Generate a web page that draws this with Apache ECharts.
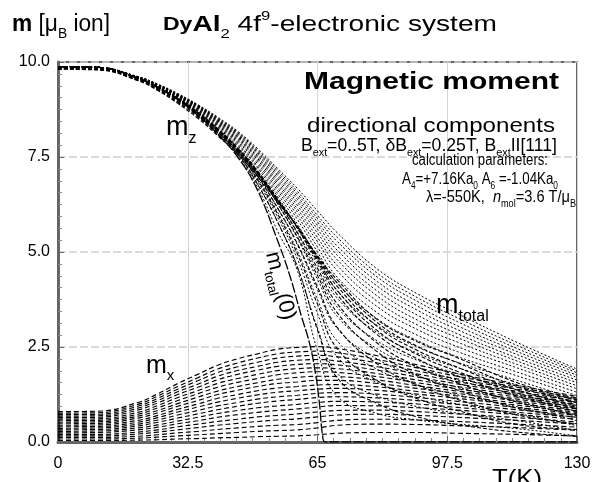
<!DOCTYPE html>
<html lang="en">
<head>
<meta charset="UTF-8">
<title>DyAl2 magnetic moment</title>
<script src="https://cdn.jsdelivr.net/npm/echarts@6/dist/echarts.min.js"></script>
<style>
  html, body { margin: 0; padding: 0; background: #fff; }
  #chart { width: 595px; height: 482px; }
</style>
</head>
<body>
<div id="chart"></div>
<script>
// temperature grids (K)
var tGrid = [0, 10, 20, 25, 30, 35, 40, 45, 50, 55, 60, 65, 70, 80, 90, 100, 115, 130];
var tZero = [0, 10, 20, 25, 30, 35, 40, 45, 50, 55, 58, 61, 63, 64.5, 65.5, 66.3, 67, 130];

// B_ext = 0 : m_total(0) (= m_z)
var mTot00 = [9.88, 9.86, 9.57, 9.32, 9.01, 8.60, 8.10, 7.50, 6.62, 5.30, 4.40, 3.30, 2.60, 1.80, 1.00, 0.15, 0, 0];

// m_total, B_ext = 0.25 .. 5 T
var mTot025 = [9.88, 9.86, 9.57, 9.32, 9.02, 8.62, 8.13, 7.54, 6.70, 5.55, 4.50, 2.40, 1.20, 0.75, 0.58, 0.47, 0.35, 0.16];
var mTot05 = [9.88, 9.86, 9.57, 9.33, 9.03, 8.64, 8.17, 7.59, 6.79, 5.80, 4.60, 3.00, 1.80, 1.21, 0.93, 0.76, 0.56, 0.30];
var mTot075 = [9.88, 9.86, 9.57, 9.33, 9.03, 8.66, 8.20, 7.63, 6.86, 5.92, 4.81, 3.38, 2.23, 1.56, 1.22, 1.00, 0.75, 0.43];
var mTot10 = [9.88, 9.86, 9.58, 9.34, 9.04, 8.68, 8.23, 7.68, 6.94, 6.05, 5.02, 3.75, 2.65, 1.91, 1.51, 1.24, 0.93, 0.56];
var mTot125 = [9.88, 9.86, 9.58, 9.34, 9.05, 8.70, 8.25, 7.72, 7.01, 6.16, 5.18, 4.01, 2.98, 2.18, 1.74, 1.44, 1.08, 0.68];
var mTot15 = [9.88, 9.86, 9.58, 9.35, 9.06, 8.71, 8.28, 7.76, 7.08, 6.27, 5.35, 4.28, 3.30, 2.45, 1.97, 1.63, 1.24, 0.80];
var mTot175 = [9.88, 9.86, 9.58, 9.35, 9.07, 8.72, 8.30, 7.80, 7.14, 6.36, 5.48, 4.48, 3.54, 2.66, 2.15, 1.80, 1.37, 0.91];
var mTot20 = [9.88, 9.86, 9.59, 9.36, 9.08, 8.74, 8.33, 7.84, 7.21, 6.46, 5.62, 4.68, 3.78, 2.88, 2.34, 1.96, 1.50, 1.02];
var mTot225 = [9.88, 9.86, 9.59, 9.36, 9.08, 8.75, 8.35, 7.87, 7.26, 6.54, 5.73, 4.84, 3.97, 3.06, 2.50, 2.10, 1.62, 1.12];
var mTot25 = [9.88, 9.86, 9.59, 9.37, 9.09, 8.77, 8.37, 7.91, 7.32, 6.62, 5.85, 5.00, 4.17, 3.24, 2.67, 2.25, 1.74, 1.22];
var mTot275 = [9.88, 9.86, 9.59, 9.37, 9.10, 8.78, 8.39, 7.94, 7.37, 6.69, 5.95, 5.13, 4.33, 3.40, 2.81, 2.38, 1.84, 1.31];
var mTot30 = [9.88, 9.86, 9.60, 9.38, 9.11, 8.80, 8.41, 7.97, 7.42, 6.76, 6.05, 5.27, 4.50, 3.56, 2.96, 2.51, 1.95, 1.40];
var mTot325 = [9.88, 9.86, 9.60, 9.38, 9.12, 8.81, 8.43, 8.00, 7.46, 6.82, 6.13, 5.38, 4.64, 3.70, 3.08, 2.63, 2.04, 1.48];
var mTot35 = [9.88, 9.86, 9.60, 9.39, 9.13, 8.82, 8.45, 8.03, 7.50, 6.88, 6.22, 5.50, 4.79, 3.84, 3.21, 2.75, 2.13, 1.56];
var mTot375 = [9.88, 9.86, 9.60, 9.39, 9.13, 8.83, 8.46, 8.05, 7.54, 6.94, 6.30, 5.60, 4.91, 3.97, 3.34, 2.85, 2.21, 1.63];
var mTot40 = [9.88, 9.86, 9.61, 9.40, 9.14, 8.84, 8.48, 8.08, 7.58, 7.00, 6.38, 5.70, 5.04, 4.10, 3.47, 2.96, 2.30, 1.70];
var mTot425 = [9.88, 9.86, 9.61, 9.40, 9.14, 8.85, 8.49, 8.10, 7.61, 7.05, 6.45, 5.79, 5.15, 4.22, 3.58, 3.06, 2.38, 1.76];
var mTot45 = [9.88, 9.86, 9.61, 9.41, 9.15, 8.86, 8.51, 8.13, 7.65, 7.10, 6.52, 5.88, 5.27, 4.34, 3.70, 3.17, 2.46, 1.82];
var mTot475 = [9.88, 9.86, 9.61, 9.41, 9.16, 8.87, 8.53, 8.15, 7.68, 7.15, 6.59, 5.96, 5.38, 4.44, 3.80, 3.27, 2.54, 1.87];
var mTot50 = [9.88, 9.86, 9.62, 9.42, 9.17, 8.88, 8.55, 8.18, 7.72, 7.20, 6.67, 6.08, 5.50, 4.55, 3.90, 3.38, 2.62, 1.92];

// m_z, B_ext = 0.5 .. 5 T
var mz05 = [9.88, 9.86, 9.57, 9.33, 9.03, 8.64, 8.17, 7.58, 6.78, 5.79, 4.59, 2.95, 1.68, 1.01, 0.66, 0.46, 0.26, 0.15];
var mz10 = [9.88, 9.86, 9.58, 9.33, 9.03, 8.66, 8.20, 7.65, 6.90, 6.00, 4.94, 3.63, 2.45, 1.61, 1.14, 0.83, 0.46, 0.33];
var mz15 = [9.88, 9.86, 9.57, 9.33, 9.03, 8.67, 8.23, 7.70, 6.99, 6.16, 5.21, 4.08, 3.01, 2.05, 1.50, 1.12, 0.71, 0.48];
var mz20 = [9.87, 9.85, 9.57, 9.33, 9.04, 8.68, 8.24, 7.73, 7.07, 6.28, 5.39, 4.38, 3.39, 2.37, 1.76, 1.37, 0.89, 0.65];
var mz25 = [9.87, 9.85, 9.57, 9.33, 9.03, 8.67, 8.23, 7.73, 7.10, 6.34, 5.51, 4.57, 3.63, 2.60, 1.98, 1.56, 1.05, 0.72];
var mz30 = [9.86, 9.84, 9.56, 9.32, 9.01, 8.66, 8.22, 7.73, 7.13, 6.40, 5.62, 4.75, 3.87, 2.82, 2.19, 1.74, 1.21, 0.80];
var mz35 = [9.85, 9.83, 9.55, 9.30, 8.99, 8.63, 8.18, 7.70, 7.10, 6.40, 5.64, 4.80, 3.98, 2.93, 2.30, 1.86, 1.29, 0.88];
var mz40 = [9.83, 9.81, 9.53, 9.28, 8.96, 8.59, 8.14, 7.66, 7.07, 6.38, 5.66, 4.85, 4.09, 3.04, 2.41, 1.97, 1.37, 0.96];
var mz45 = [9.82, 9.80, 9.52, 9.27, 8.94, 8.56, 8.10, 7.62, 7.03, 6.35, 5.67, 4.88, 4.18, 3.14, 2.52, 2.09, 1.46, 1.04];
var mz50 = [9.81, 9.79, 9.51, 9.25, 8.91, 8.52, 8.06, 7.57, 6.99, 6.32, 5.66, 4.90, 4.26, 3.22, 2.64, 2.22, 1.56, 1.10];

// m_x, B_ext = 0.25 .. 5 T
var mx025 = [0.04, 0.04, 0.05, 0.06, 0.08, 0.09, 0.11, 0.12, 0.14, 0.15, 0.16, 0.19, 0.23, 0.25, 0.25, 0.23, 0.20, 0.16];
var mx05 = [0.08, 0.08, 0.10, 0.13, 0.16, 0.19, 0.22, 0.25, 0.28, 0.30, 0.32, 0.37, 0.44, 0.47, 0.46, 0.43, 0.38, 0.31];
var mx075 = [0.12, 0.12, 0.15, 0.19, 0.24, 0.28, 0.33, 0.37, 0.41, 0.44, 0.46, 0.51, 0.57, 0.60, 0.58, 0.54, 0.47, 0.39];
var mx10 = [0.16, 0.16, 0.21, 0.26, 0.32, 0.38, 0.44, 0.49, 0.54, 0.58, 0.61, 0.66, 0.71, 0.73, 0.70, 0.65, 0.57, 0.47];
var mx125 = [0.20, 0.20, 0.26, 0.32, 0.40, 0.47, 0.54, 0.60, 0.66, 0.70, 0.74, 0.79, 0.83, 0.84, 0.80, 0.74, 0.64, 0.53];
var mx15 = [0.24, 0.25, 0.32, 0.39, 0.48, 0.56, 0.65, 0.72, 0.78, 0.83, 0.87, 0.92, 0.96, 0.95, 0.90, 0.84, 0.72, 0.60];
var mx175 = [0.28, 0.29, 0.37, 0.45, 0.55, 0.65, 0.75, 0.83, 0.90, 0.95, 0.99, 1.04, 1.07, 1.05, 1.00, 0.91, 0.78, 0.65];
var mx20 = [0.32, 0.33, 0.42, 0.52, 0.63, 0.74, 0.85, 0.94, 1.02, 1.08, 1.12, 1.17, 1.19, 1.16, 1.09, 0.99, 0.85, 0.70];
var mx225 = [0.36, 0.37, 0.47, 0.58, 0.71, 0.83, 0.95, 1.04, 1.13, 1.19, 1.23, 1.28, 1.30, 1.26, 1.17, 1.07, 0.91, 0.74];
var mx25 = [0.40, 0.41, 0.52, 0.64, 0.79, 0.92, 1.05, 1.15, 1.24, 1.31, 1.35, 1.39, 1.41, 1.36, 1.26, 1.15, 0.97, 0.78];
var mx275 = [0.44, 0.45, 0.57, 0.70, 0.86, 1.00, 1.15, 1.25, 1.35, 1.42, 1.46, 1.50, 1.51, 1.45, 1.33, 1.21, 1.02, 0.82];
var mx30 = [0.48, 0.49, 0.63, 0.77, 0.94, 1.09, 1.25, 1.36, 1.46, 1.54, 1.58, 1.62, 1.62, 1.54, 1.41, 1.28, 1.08, 0.87];
var mx325 = [0.52, 0.53, 0.68, 0.83, 1.01, 1.18, 1.34, 1.46, 1.56, 1.65, 1.70, 1.73, 1.72, 1.63, 1.48, 1.34, 1.13, 0.91];
var mx35 = [0.56, 0.57, 0.73, 0.90, 1.09, 1.27, 1.44, 1.57, 1.67, 1.77, 1.82, 1.85, 1.83, 1.72, 1.56, 1.40, 1.18, 0.95];
var mx375 = [0.60, 0.61, 0.78, 0.96, 1.17, 1.35, 1.54, 1.67, 1.78, 1.88, 1.93, 1.95, 1.93, 1.80, 1.63, 1.46, 1.23, 0.99];
var mx40 = [0.64, 0.65, 0.84, 1.03, 1.25, 1.44, 1.64, 1.78, 1.89, 1.99, 2.04, 2.06, 2.03, 1.89, 1.71, 1.53, 1.28, 1.03];
var mx425 = [0.68, 0.69, 0.89, 1.09, 1.32, 1.52, 1.73, 1.88, 1.99, 2.10, 2.15, 2.17, 2.13, 1.98, 1.79, 1.59, 1.33, 1.07];
var mx45 = [0.72, 0.73, 0.94, 1.15, 1.39, 1.61, 1.83, 1.98, 2.10, 2.21, 2.26, 2.28, 2.24, 2.08, 1.87, 1.66, 1.39, 1.12];
var mx475 = [0.76, 0.77, 0.99, 1.21, 1.46, 1.69, 1.92, 2.08, 2.21, 2.32, 2.37, 2.39, 2.35, 2.17, 1.95, 1.73, 1.44, 1.16];
var mx50 = [0.80, 0.81, 1.04, 1.27, 1.54, 1.78, 2.02, 2.19, 2.32, 2.44, 2.49, 2.51, 2.46, 2.27, 2.03, 1.80, 1.49, 1.20];

var totCurves = [mTot025, mTot05, mTot075, mTot10, mTot125, mTot15, mTot175, mTot20, mTot225, mTot25,
                 mTot275, mTot30, mTot325, mTot35, mTot375, mTot40, mTot425, mTot45, mTot475, mTot50];
var mzCurves = [mz05, mz10, mz15, mz20, mz25, mz30, mz35, mz40, mz45, mz50];
var mxCurves = [mx025, mx05, mx075, mx10, mx125, mx15, mx175, mx20, mx225, mx25,
                mx275, mx30, mx325, mx35, mx375, mx40, mx425, mx45, mx475, mx50];

var FONT = '"Liberation Sans", Arial, sans-serif';

function curve(name, t, v, dash, w) {
    return {
        name: name,
        type: 'line',
        data: t.map(function (x, i) { return [x, v[i]]; }),
        symbol: 'none',
        smooth: 0.45,
        silent: true,
        lineStyle: { color: '#000', width: w || 1, type: dash }
    };
}

var series = [];
mxCurves.forEach(function (c, i) { series.push(curve('mx' + i, tGrid, c, [5, 3], 1.15)); });
mzCurves.forEach(function (c, i) { series.push(curve('mz' + i, tGrid, c, [4, 2], 1.1)); });
totCurves.forEach(function (c, i) { series.push(curve('mtot' + i, tGrid, c, [2, 2], 1)); });
series.push(curve('mtot0', tZero, mTot00, [10, 2], 1.3));

// scale a text horizontally so it spans the wanted width
function fitScale(style, width) {
    try {
        var el = new echarts.graphic.Text({ style: style });
        var w = el.getBoundingRect().width;
        return w > 0 ? width / w : 1;
    } catch (e) {
        return 1;
    }
}

function subStyles(fs) {
    return {
        b: { fontWeight: 'bold', fontSize: fs, fontFamily: FONT },
        d: { fontWeight: 'bold', fontSize: Math.round(fs * 0.82), fontFamily: FONT },
        i: { fontStyle: 'italic', fontSize: fs, fontFamily: FONT },
        s: { fontSize: Math.round(fs * 0.6), lineHeight: Math.round(fs * 0.6), verticalAlign: 'bottom', fontFamily: FONT },
        p: { fontSize: Math.round(fs * 0.6), lineHeight: Math.round(fs * 0.6), verticalAlign: 'top', fontFamily: FONT }
    };
}

function label(x, y, text, fs, opt) {
    opt = opt || {};
    var style = {
        text: text,
        fontSize: fs,
        fontFamily: FONT,
        fontWeight: opt.bold ? 'bold' : 'normal',
        lineHeight: Math.round(fs * 1.4),
        rich: subStyles(fs),
        fill: '#000',
        align: 'left',
        verticalAlign: opt.va || 'middle'
    };
    var el = { type: 'text', x: x, y: y, style: style, silent: true, z: 10 };
    if (opt.width) el.scaleX = fitScale(style, opt.width);
    if (opt.rotation) el.rotation = opt.rotation;
    return el;
}

var texts = [
    label(12, 25, '{b|m} [μ{s|B} ion]', 23, { width: 98 }),
    label(163, 25, '{d|Dy}{b|Al}{s|2} 4f{p|9}-electronic system', 22, { width: 334 }),
    label(304, 82, 'Magnetic moment', 24, { bold: true, width: 255 }),
    label(307, 126, 'directional components', 21, { width: 248 }),
    label(301, 146, 'B{s|ext}=0..5T, δB{s|ext}=0.25T, B{s|ext}II[111]', 18, { width: 256 }),
    label(412, 161, 'calculation parameters:', 16, { width: 136 }),
    label(402, 180, 'A{s|4}=+7.16Ka{s|0} A{s|6} =-1.04Ka{s|0}', 16, { width: 156 }),
    label(426, 198, 'λ=-550K,  {i|n}{s|mol}=3.6 T/μ{s|B}', 16, { width: 150 }),
    label(166, 128, 'm{s|z}', 27),
    label(146, 366, 'm{s|x}', 25),
    label(436, 306, 'm{s|total}', 27),
    label(272, 252, 'm{s|total}(0)', 22, { rotation: -1.33 }),
    label(492, 462, 'T(K)', 24, { va: 'top', width: 50 })
];

var chart = echarts.init(document.getElementById('chart'));
chart.setOption({
    animation: false,
    backgroundColor: '#fff',
    grid: {
        left: 58, right: 18, top: 62, bottom: 40,
        show: true, borderColor: '#333', borderWidth: 1.5, backgroundColor: '#fff'
    },
    xAxis: {
        type: 'value', min: 0, max: 130, interval: 32.5,
        axisLine: { show: true, onZero: false, lineStyle: { color: '#666', width: 3 } },
        axisTick: { show: true, inside: true, length: 6, lineStyle: { color: '#666' } },
        minorTick: { show: true, splitNumber: 8, length: 4, lineStyle: { color: '#888' } },
        axisLabel: { color: '#000', fontSize: 16, fontFamily: FONT, margin: 14 },
        splitLine: { show: true, lineStyle: { color: '#d4d4d4', width: 1 } }
    },
    yAxis: {
        type: 'value', min: 0, max: 10, interval: 2.5,
        axisLine: { show: true, onZero: false, lineStyle: { color: '#666', width: 3 } },
        axisTick: { show: true, inside: true, length: 6, lineStyle: { color: '#666' } },
        minorTick: { show: true, splitNumber: 8, length: 4, lineStyle: { color: '#888' } },
        axisLabel: {
            color: '#000', fontSize: 16, fontFamily: FONT, margin: 8,
            formatter: function (v) { return v.toFixed(1); }
        },
        splitLine: { show: true, lineStyle: { color: '#cfcfcf', width: 1.5, type: [8, 3] } }
    },
    series: series,
    graphic: texts
});
</script>
</body>
</html>
